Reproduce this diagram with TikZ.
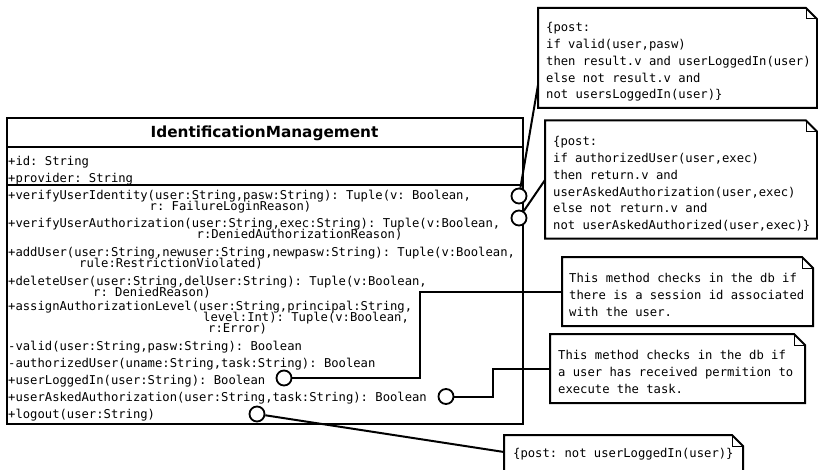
\documentclass[tikz,border=0pt]{standalone}
\usepackage{fontspec}
\newfontfamily\umlmono{DejaVu Sans Mono}
\newfontfamily\umlsans{DejaVu Sans}
\newcommand\foldsize{11pt}
% outline of a UML note with a folded top-right corner
\newcommand\umlnoteoutline[1]{%
  \draw[noteline] (#1.north west) -- ([xshift=-\foldsize]#1.north east)
    -- ([yshift=-\foldsize]#1.north east) -- (#1.south east)
    -- (#1.south west) -- cycle;
  \draw[foldline] ([xshift=-\foldsize]#1.north east) |- ([yshift=-\foldsize]#1.north east);}
\frenchspacing
\begin{document}
\begin{tikzpicture}[x=1pt,y=-1pt,
  classbox/.style={draw, line width=2pt, rectangle, inner sep=0, outer sep=0},
  boxline/.style={line width=2pt},
  titletext/.style={inner sep=0, font=\umlsans\bfseries\fontsize{15.3}{17}\selectfont},
  member/.style={anchor=base west, inner sep=0, font=\umlmono\fontsize{12.2}{14}\selectfont\frenchspacing},
  notearea/.style={rectangle, inner sep=0, outer sep=0},
  noteline/.style={line width=2pt, line join=miter, fill=white},
  foldline/.style={line width=1pt},
  notetext/.style={anchor=north west, inner sep=0, align=left,
    font=\umlmono\fontsize{12.2}{16.8}\selectfont\frenchspacing},
  port/.style={circle, draw, line width=1.8pt, fill=white, minimum size=15pt, inner sep=0},
  conn/.style={line width=2pt}]
\useasboundingbox (0,0) rectangle (818,470);

% class box with its three compartments
\node[classbox, minimum width=516pt, minimum height=306pt] (cls) at (264.5,271) {};
\draw[boxline] (cls.north west) ++(0,29.5) -- ++(516,0);
\draw[boxline] (cls.north west) ++(0,67) -- ++(516,0);
\node[titletext] (title) at (264.5,133) {IdentificationManagement};

% attributes
\node[member] (a1) at (8,165.5) {+id: String};
\node[member] (a2) at (8,182.5) {+provider: String};

% operations
\node[member] (o1) at (8,199.5) {+verifyUserIdentity(user:String,pasw:String): Tuple(v: Boolean,};
\node[member] (o1b) at (149.5,210.5) {r: FailureLoginReason)};
\node[member] (o2) at (8,227.5) {+verifyUserAuthorization(user:String,exec:String): Tuple(v:Boolean,};
\node[member] (o2b) at (196.5,238.5) {r:DeniedAuthorizationReason)};
\node[member] (o3) at (8,256.5) {+addUser(user:String,newuser:String,newpasw:String): Tuple(v:Boolean,};
\node[member] (o3b) at (79,267.5) {rule:RestrictionViolated)};
\node[member] (o4) at (8,285.5) {+deleteUser(user:String,delUser:String): Tuple(v:Boolean,};
\node[member] (o4b) at (93,296.5) {r: DeniedReason)};
\node[member] (o5) at (8,310.5) {+assignAuthorizationLevel(user:String,principal:String,};
\node[member] (o5b) at (203,321.5) {level:Int): Tuple(v:Boolean,};
\node[member] (o5c) at (208,332.5) {r:Error)};
\node[member] (o6) at (8,350.5) {-valid(user:String,pasw:String): Boolean};
\node[member] (o7) at (8,367.5) {-authorizedUser(uname:String,task:String): Boolean};
\node[member] (o8) at (8,384.5) {+userLoggedIn(user:String): Boolean};
\node[member] (o9) at (8,401.5) {+userAskedAuthorization(user:String,task:String): Boolean};
\node[member] (o10) at (8,418.5) {+logout(user:String)};

% notes
\node[notearea, minimum width=279pt, minimum height=100pt] (n1) at (677.5,58) {};
\node[notearea, minimum width=272pt, minimum height=118pt] (n2) at (681,179.5) {};
\node[notearea, minimum width=251pt, minimum height=69pt] (n3) at (687.5,291.5) {};
\node[notearea, minimum width=255pt, minimum height=69pt] (n4) at (677.5,368.5) {};
\node[notearea, minimum width=239pt, minimum height=45pt] (n5) at (623.5,457.5) {};
\umlnoteoutline{n1}
\umlnoteoutline{n2}
\umlnoteoutline{n3}
\umlnoteoutline{n4}
\umlnoteoutline{n5}

\node[notetext] (t1) at (546,22.2) {\{post:\\if valid(user,pasw)\\then result.v and userLoggedIn(user)\\else not result.v and\\not usersLoggedIn(user)\}};
\node[notetext] (t2) at (553,136.2) {\{post:\\if authorizedUser(user,exec)\\then return.v and\\userAskedAuthorization(user,exec)\\else not return.v and\\not userAskedAuthorized(user,exec)\}};
\node[notetext] (t3) at (569,273.2) {This method checks in the db if\\there is a session id associated\\with the user.};
\node[notetext] (t4) at (558,350.2) {This method checks in the db if\\a user has received permition to\\execute the task.};
\node[notetext] (t5) at (513,448.2) {\{post: not userLoggedIn(user)\}};

% attachment points on the notes' left edges
\coordinate (p1) at (538,85);
\coordinate (p2) at (545,180);
\coordinate (k3) at (420,291.5);
\coordinate (k4) at (493,368.5);
\coordinate (p5) at (504,452);

% ports on the operations
\node[port] (c1) at (519,196) {};
\node[port] (c2) at (519,218) {};
\node[port] (c3) at (284,378) {};
\node[port] (c4) at (446,396.5) {};
\node[port] (c5) at (257,414) {};

% connectors
\draw[conn] (c1) -- (p1);
\draw[conn] (c2) -- (p2);
\draw[conn] (c3.east) -| (k3) -- (k3 -| n3.west);
\draw[conn] (c4.east) -| (k4) -- (k4 -| n4.west);
\draw[conn] (c5) -- (p5);
\end{tikzpicture}
\end{document}
